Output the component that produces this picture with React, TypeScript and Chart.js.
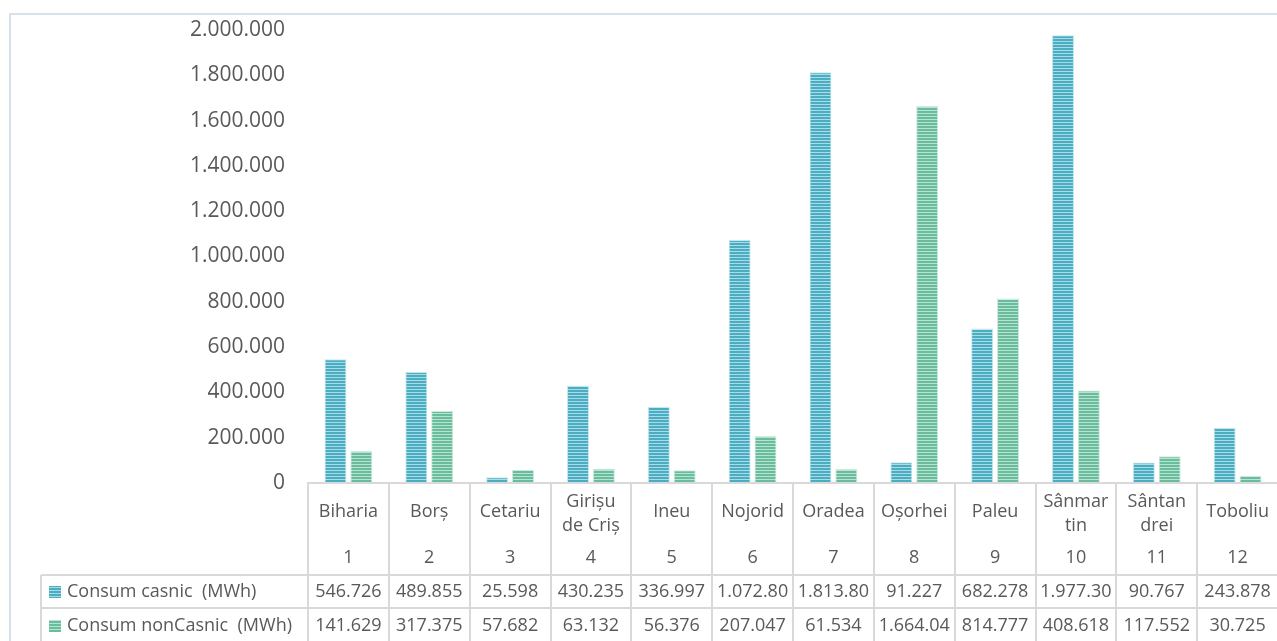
import React, { useEffect, useRef } from "react";
import { Chart, registerables } from "chart.js";

Chart.register(...registerables);

// ---- data ----
const categories: (string | string[])[] = [
  "Biharia",
  "Borș",
  "Cetariu",
  ["Girișu", "de Criș"],
  "Ineu",
  "Nojorid",
  "Oradea",
  "Oșorhei",
  "Paleu",
  ["Sânmar", "tin"],
  ["Sântan", "drei"],
  "Toboliu",
];
const categoryNumbers = ["1", "2", "3", "4", "5", "6", "7", "8", "9", "10", "11", "12"];
const seriesNames = ["Consum casnic  (MWh)", "Consum nonCasnic  (MWh)"];
const consumCasnic = [546726, 489855, 25598, 430235, 336997, 1072800, 1813800, 91227, 682278, 1977300, 90767, 243878];
const consumNonCasnic = [141629, 317375, 57682, 63132, 56376, 207047, 61534, 1664040, 814777, 408618, 117552, 30725];
const yMin = 0;
const yMax = 2000000;
const yStep = 200000;

// ---- styles ----
const FONT = "'Open Sans', 'DejaVu Sans', sans-serif";
const TEXT = "#595959";
const GRID = "#d9d9d9";
const seriesColors = [
  { dark: "#4aadc1", light: "#a9dce6", border: "#c4e8ee" },
  { dark: "#6abd9c", light: "#b8e3d2", border: "#cdeadf" },
];

const fmt = (v: number) =>
  Math.round(v)
    .toString()
    .replace(/\B(?=(\d{3})+(?!\d))/g, ".");

function stripePattern(dark: string, light: string): CanvasPattern | string {
  const c = document.createElement("canvas");
  c.width = 4;
  c.height = 3;
  const g = c.getContext("2d");
  if (!g) return dark;
  g.fillStyle = light;
  g.fillRect(0, 0, 4, 3);
  g.fillStyle = dark;
  g.fillRect(0, 0, 4, 2);
  return g.createPattern(c, "repeat") || dark;
}

export default function App() {
  const ref = useRef<HTMLCanvasElement | null>(null);

  useEffect(() => {
    if (!ref.current) return;
    const patterns = seriesColors.map((c) => stripePattern(c.dark, c.light));

    const tablePlugin = {
      id: "dataTable",
      beforeDraw(chart: any) {
        const ctx = chart.ctx as CanvasRenderingContext2D;
        ctx.save();
        ctx.fillStyle = "#ffffff";
        ctx.fillRect(0, 0, chart.width, chart.height);
        ctx.strokeStyle = "#d6e1ec";
        ctx.lineWidth = 2;
        ctx.strokeRect(10, 14, 1400, 800);
        ctx.restore();
      },
      afterDraw(chart: any) {
        const ctx = chart.ctx as CanvasRenderingContext2D;
        const area = chart.chartArea;
        const xs = chart.scales.x;
        const n = categories.length;
        const cw = area.width / n;
        const headerBottom = 575;
        const row1Bottom = 608;
        const rowBottom = 645;
        const legendLeft = 41;

        ctx.save();
        ctx.lineWidth = 2;
        ctx.strokeStyle = GRID;

        // axis line
        ctx.beginPath();
        ctx.moveTo(area.left - 1, area.bottom);
        ctx.lineTo(area.right + 4, area.bottom);
        ctx.stroke();

        // header verticals
        for (let i = 0; i <= n; i++) {
          const x = Math.round(area.left + i * cw);
          ctx.beginPath();
          ctx.moveTo(x, area.bottom);
          ctx.lineTo(x, headerBottom);
          ctx.stroke();
        }

        // data rows horizontal lines
        [headerBottom, row1Bottom].forEach((y) => {
          ctx.beginPath();
          ctx.moveTo(legendLeft, y);
          ctx.lineTo(area.right + 4, y);
          ctx.stroke();
        });
        // data rows verticals
        const vx = [legendLeft];
        for (let i = 0; i <= n; i++) vx.push(Math.round(area.left + i * cw));
        vx.forEach((x) => {
          ctx.beginPath();
          ctx.moveTo(x, headerBottom);
          ctx.lineTo(x, rowBottom);
          ctx.stroke();
        });

        // category names and numbers
        ctx.fillStyle = TEXT;
        ctx.font = `18px ${FONT}`;
        ctx.textAlign = "center";
        ctx.textBaseline = "middle";
        categories.forEach((cat, i) => {
          const cx = xs.getPixelForTick(i);
          const lines = Array.isArray(cat) ? cat : [cat];
          if (lines.length === 1) {
            ctx.fillText(lines[0], cx, 512);
          } else {
            const lh = 24;
            const y0 = 514 - ((lines.length - 1) * lh) / 2;
            lines.forEach((l, k) => ctx.fillText(l, cx, y0 + k * lh));
          }
          ctx.fillText(categoryNumbers[i], cx, 558);
        });

        // values
        const rows = [consumCasnic, consumNonCasnic];
        const rowY = [592, 626];
        rows.forEach((vals, r) => {
          vals.forEach((v, i) => {
            const cx = xs.getPixelForTick(i);
            let s = fmt(v);
            while (s.length > 1 && ctx.measureText(s).width > cw - 6) s = s.slice(0, -1);
            ctx.fillText(s, cx, rowY[r]);
          });
          // legend key
          ctx.fillStyle = patterns[r] as any;
          ctx.fillRect(49, rowY[r] - 6, 12, 12);
          ctx.fillStyle = TEXT;
          ctx.textAlign = "left";
          ctx.fillText(seriesNames[r], 67, rowY[r]);
          ctx.textAlign = "center";
        });

        ctx.restore();
      },
    };

    const chart = new Chart(ref.current, {
      type: "bar",
      data: {
        labels: categories as any,
        datasets: [
          {
            label: seriesNames[0],
            data: consumCasnic,
            backgroundColor: patterns[0] as any,
            borderColor: seriesColors[0].border,
            borderWidth: 1,
            categoryPercentage: 0.64,
            barPercentage: 0.85,
          },
          {
            label: seriesNames[1],
            data: consumNonCasnic,
            backgroundColor: patterns[1] as any,
            borderColor: seriesColors[1].border,
            borderWidth: 1,
            categoryPercentage: 0.64,
            barPercentage: 0.85,
          },
        ],
      },
      options: {
        animation: false,
        responsive: true,
        maintainAspectRatio: false,
        layout: { padding: { top: 30, bottom: 158, left: 0, right: 2 } },
        plugins: {
          legend: { display: false },
          tooltip: { enabled: false },
        },
        scales: {
          x: { display: false, offset: true },
          y: {
            min: yMin,
            max: yMax,
            ticks: {
              stepSize: yStep,
              callback: (v: any) => fmt(Number(v)),
              font: { family: FONT, size: 21 },
              color: TEXT,
              padding: 23,
            },
            grid: { display: false, drawTicks: false },
            border: { display: false },
            afterFit: (s: any) => {
              s.width = 308;
              s.paddingTop = 0;
              s.paddingBottom = 0;
            },
          },
        },
      },
      plugins: [tablePlugin],
    });

    return () => chart.destroy();
  }, []);

  return (
    <div style={{ position: "fixed", left: 0, top: 0, width: 1277, height: 641, overflow: "hidden", background: "#fff" }}>
      <div style={{ position: "absolute", left: 0, top: 0, width: 1280, height: 641 }}>
        <canvas ref={ref} />
      </div>
    </div>
  );
}
